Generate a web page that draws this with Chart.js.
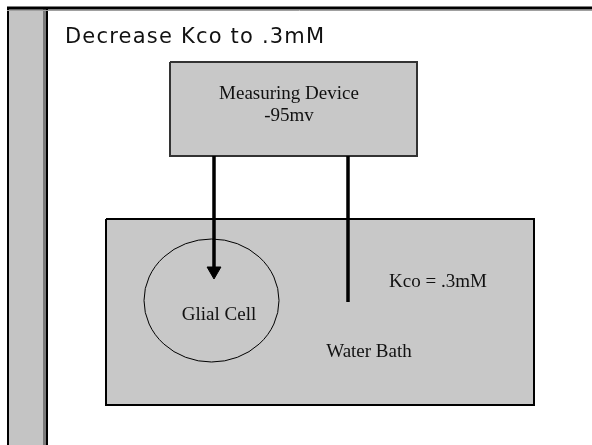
<!DOCTYPE html>
<html>
<head>
<meta charset="utf-8">
<script src="https://cdn.jsdelivr.net/npm/chart.js@4/dist/chart.umd.min.js"></script>
<style>
  body { margin: 0; background: #fff; }
  #wrap { width: 592px; height: 445px; }
</style>
</head>
<body>
<div id="wrap"><canvas id="diagram" width="592" height="445"></canvas></div>
<script>
// Diagram geometry, in diagram units (x 0..592, y 0..445, y going down)
const frameTop = [[7, 8], [592, 8]];
const frameBar = [[8, 7], [47, 7]];       // filled down to the bottom
const deviceBox = [[170, 62], [417, 62], [417, 156], [170, 156], [170, 62]];
const bathBox = [[106, 219], [534, 219], [534, 405], [106, 405], [106, 219]];
const arrowShaft = [[214, 156], [214, 268]];
const probeLine = [[348, 156], [348, 302]];
const arrowTip = [[214, 271]];
const glialCell = { cx: 211.5, cy: 300.5, rx: 67.5, ry: 61.5 };

const titleText = 'Decrease Kco to .3mM';
const labels = ['Measuring Device', '-95mv', 'Glial Cell', 'Kco = .3mM', 'Water Bath'];
const labelX = [289, 289, 219, 438, 369];
const labelY = [94, 116, 315, 282, 352];

const pts = arr => arr.map(p => ({ x: p[0], y: p[1] }));

// draws the cell outline and the words, placed through the chart scales
const diagramText = {
  id: 'diagramText',
  afterDatasetsDraw(chart) {
    const { ctx, scales } = chart;
    const sx = scales.x, sy = scales.y;
    ctx.save();
    const cx = sx.getPixelForValue(glialCell.cx);
    const cy = sy.getPixelForValue(glialCell.cy);
    const rx = Math.abs(sx.getPixelForValue(glialCell.cx + glialCell.rx) - cx);
    const ry = Math.abs(sy.getPixelForValue(glialCell.cy + glialCell.ry) - cy);
    ctx.beginPath();
    ctx.ellipse(cx, cy, rx, ry, 0, 0, Math.PI * 2);
    ctx.strokeStyle = '#000';
    ctx.lineWidth = 1;
    ctx.stroke();

    ctx.fillStyle = '#111';
    ctx.textAlign = 'center';
    ctx.textBaseline = 'middle';
    ctx.font = '19px "Liberation Serif", "Times New Roman", serif';
    labels.forEach((t, i) => {
      ctx.fillText(t, sx.getPixelForValue(labelX[i]), sy.getPixelForValue(labelY[i]));
    });

    ctx.textAlign = 'left';
    ctx.textBaseline = 'alphabetic';
    ctx.font = '21px "DejaVu Sans", Verdana, sans-serif';
    ctx.letterSpacing = '1.2px';
    ctx.fillText(titleText, sx.getPixelForValue(65), sy.getPixelForValue(43));
    ctx.restore();
  }
};

const line = (data, color, width, extra) => Object.assign({
  data: pts(data),
  showLine: true,
  borderColor: color,
  borderWidth: width,
  pointRadius: 0,
  fill: false,
  tension: 0
}, extra || {});

// listed in painting order (back to front); Chart.js paints the first dataset last
const layers = [
  // left bar of the slide frame
  line(frameBar, '#000', 0, { fill: { value: 445 }, backgroundColor: '#c4c4c4' }),
  line([[44.5, 7], [44.5, 445]], '#7a7a7a', 3),
  line([[47, 7], [47, 445]], '#000', 2),
  line([[8, 7], [8, 445]], '#000', 2),
  line([[7, 10.5], [592, 10.5]], '#a0a0a0', 1),
  line(frameTop, '#000', 3),
  // water bath
  line(bathBox.slice(0, 2), '#000', 0, { fill: { value: 405 }, backgroundColor: '#c8c8c8' }),
  line(bathBox, '#000', 2),
  // measuring device
  line(deviceBox.slice(0, 2), '#000', 0, { fill: { value: 156 }, backgroundColor: '#c8c8c8' }),
  line(deviceBox, '#333', 2),
  // electrodes
  line(arrowShaft, '#000', 3.5),
  line(probeLine, '#000', 3.5),
  {
    data: pts(arrowTip),
    pointStyle: 'triangle',
    rotation: 180,
    pointRadius: 8,
    backgroundColor: '#000',
    borderColor: '#000',
    borderWidth: 1
  }
];

new Chart(document.getElementById('diagram'), {
  type: 'scatter',
  data: { datasets: layers.slice().reverse() },
  options: {
    responsive: false,
    animation: false,
    events: [],
    layout: { padding: 0, autoPadding: false },
    plugins: { legend: { display: false }, tooltip: { enabled: false }, title: { display: false } },
    scales: {
      x: { type: 'linear', min: 0, max: 592, display: false },
      y: { type: 'linear', min: 0, max: 445, reverse: true, display: false }
    }
  },
  plugins: [diagramText]
});
</script>
</body>
</html>
